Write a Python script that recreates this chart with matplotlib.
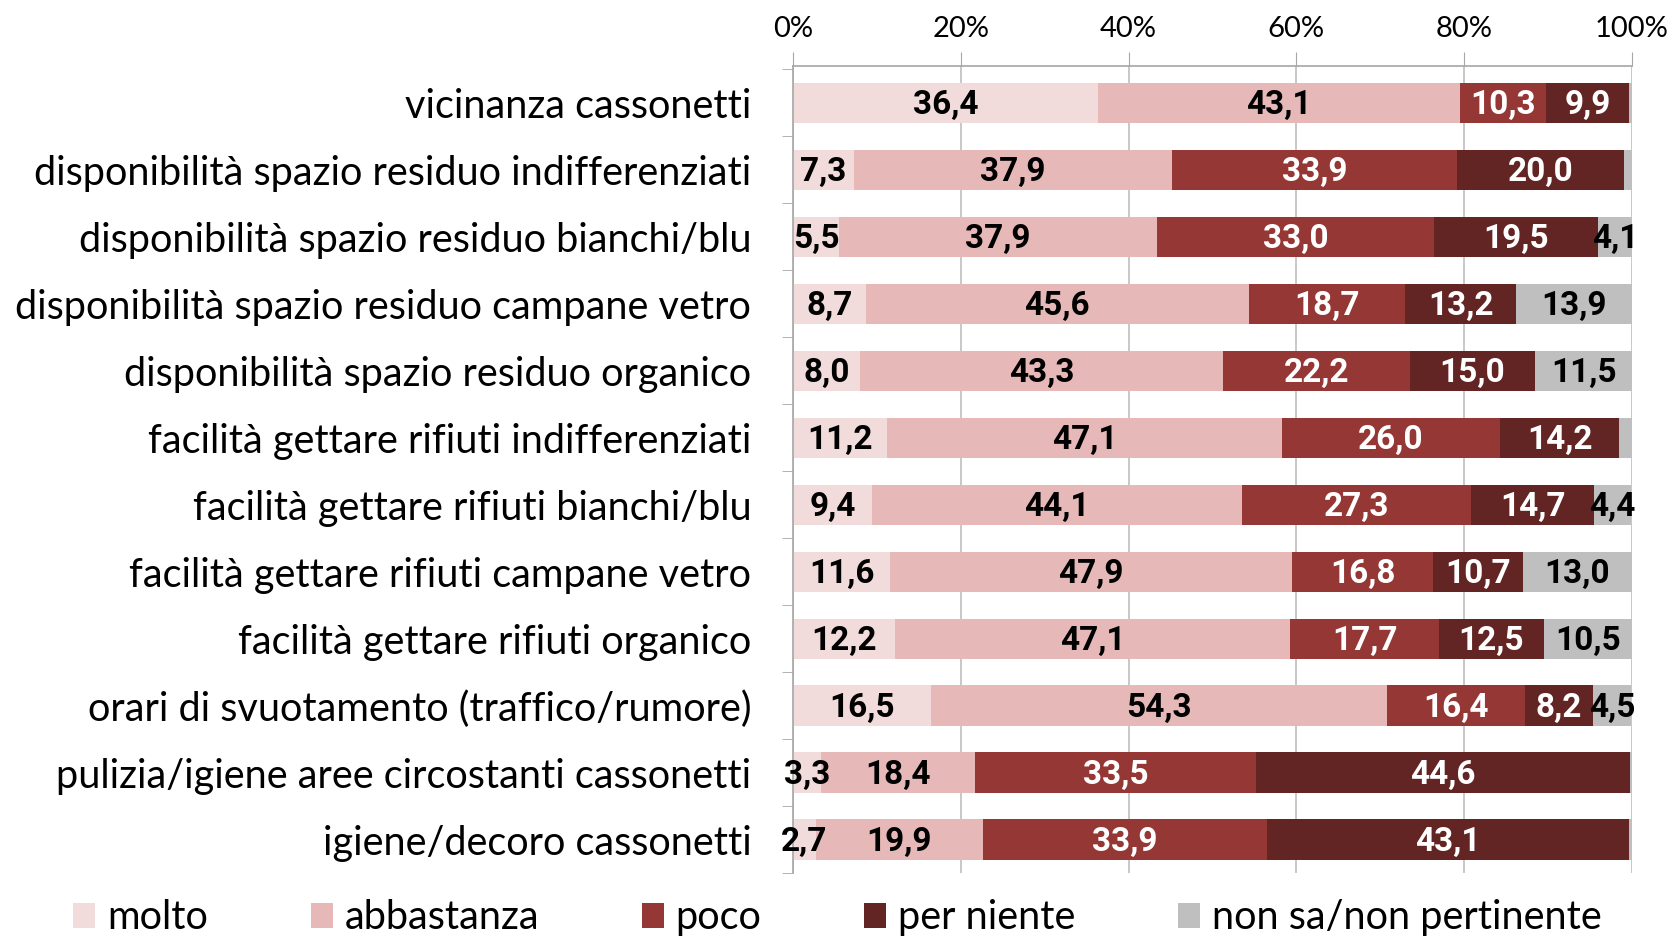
import matplotlib
matplotlib.use("Agg")
import matplotlib.pyplot as plt
import numpy as np
from matplotlib.ticker import FixedLocator, PercentFormatter

plt.rcParams["font.family"] = ["Lato", "DejaVu Sans"]

categories = [
    "vicinanza cassonetti",
    "disponibilità spazio residuo indifferenziati",
    "disponibilità spazio residuo bianchi/blu",
    "disponibilità spazio residuo campane vetro",
    "disponibilità spazio residuo organico",
    "facilità gettare rifiuti indifferenziati",
    "facilità gettare rifiuti bianchi/blu",
    "facilità gettare rifiuti campane vetro",
    "facilità gettare rifiuti organico",
    "orari di svuotamento (traffico/rumore)",
    "pulizia/igiene aree circostanti cassonetti",
    "igiene/decoro cassonetti",
]
series = ["molto", "abbastanza", "poco", "per niente", "non sa/non pertinente"]
molto = [36.4, 7.3, 5.5, 8.7, 8.0, 11.2, 9.4, 11.6, 12.2, 16.5, 3.3, 2.7]
abbastanza = [43.1, 37.9, 37.9, 45.6, 43.3, 47.1, 44.1, 47.9, 47.1, 54.3, 18.4, 19.9]
poco = [10.3, 33.9, 33.0, 18.7, 22.2, 26.0, 27.3, 16.8, 17.7, 16.4, 33.5, 33.9]
per_niente = [9.9, 20.0, 19.5, 13.2, 15.0, 14.2, 14.7, 10.7, 12.5, 8.2, 44.6, 43.1]
non_sa = [0.3, 0.9, 4.1, 13.9, 11.5, 1.5, 4.4, 13.0, 10.5, 4.5, 0.2, 0.4]

colors = ["#F2DCDB", "#E6B9B8", "#953735", "#632523", "#BFBFBF"]
label_colors = ["black", "black", "white", "white", "black"]

fig = plt.figure(figsize=(16.75, 9.39), dpi=100)
ax = fig.add_axes([0.4734, 0.0703, 0.5009, 0.8594])

y = np.arange(len(categories))
left = np.zeros(len(categories))
for name, vals, col, lc in zip(series, [molto, abbastanza, poco, per_niente, non_sa], colors, label_colors):
    vals = np.array(vals)
    bars = ax.barh(y, vals, left=left, height=0.6, color=col, label=name, zorder=2)
    for b, v in zip(bars, vals):
        if v >= 2:
            ax.text(b.get_x() + b.get_width() / 2, b.get_y() + b.get_height() / 2 + 0.03,
                    f"{v:.1f}".replace(".", ","), ha="center", va="center",
                    color=lc, fontsize=24, fontweight="bold",
                    family=["Roboto", "DejaVu Sans"], zorder=3)
    left += vals

ax.set_xlim(0, 100)
ax.set_ylim(len(categories) - 0.5, -0.55)
ax.xaxis.set_major_locator(FixedLocator([0, 20, 40, 60, 80, 100]))
ax.xaxis.set_major_formatter(PercentFormatter(decimals=0))
ax.xaxis.tick_top()
ax.tick_params(axis="x", which="major", length=10, color="#A6A6A6", labelsize=21, pad=7)
ax.set_yticks(y)
ax.set_yticklabels(categories, fontsize=28.5)
ax.yaxis.set_minor_locator(FixedLocator(np.arange(-0.5, len(categories), 1)))
ax.tick_params(axis="y", which="major", length=0, pad=30)
ax.tick_params(axis="y", which="minor", length=8, color="#A6A6A6")
ax.grid(axis="x", color="#BFBFBF", linewidth=1.2, zorder=0)
ax.set_axisbelow(True)
for s in ["right", "bottom"]:
    ax.spines[s].set_visible(False)
for s in ["top", "left"]:
    ax.spines[s].set_color("#A6A6A6")
    ax.spines[s].set_linewidth(1.2)

fig.legend(loc="lower center", bbox_to_anchor=(0.5, -0.035), ncol=5, frameon=False,
           fontsize=28.5, handlelength=0.55, handleheight=0.6, handletextpad=0.3,
           columnspacing=2.6)

fig.savefig("out.png", dpi=100)
